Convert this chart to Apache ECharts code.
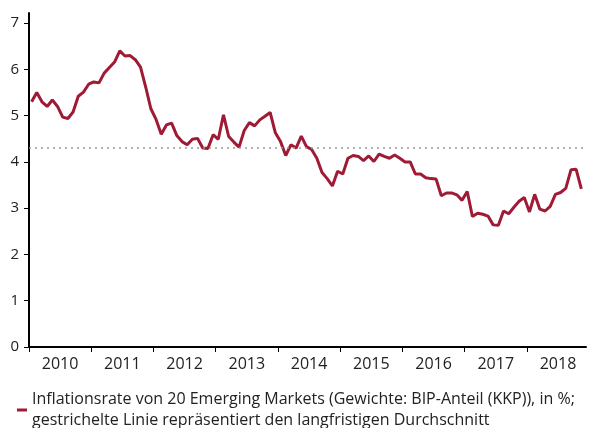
<!DOCTYPE html>
<html>
<head>
<meta charset="utf-8">
<script src="https://cdn.jsdelivr.net/npm/echarts@6/dist/echarts.min.js"></script>
<style>
html,body{margin:0;padding:0;background:#fff;}
#chart{width:595px;height:428px;}
</style>
</head>
<body>
<div id="chart"></div>
<script>
// Year labels (each year = 12 monthly observations)
const years = ['2010','2011','2012','2013','2014','2015','2016','2017','2018'];
// Monthly inflation rate, Jan 2010 - Nov 2018 (%)
const inflation = [
  5.30, 5.50, 5.30, 5.20, 5.34, 5.20, 4.97, 4.94, 5.08, 5.42, 5.51, 5.68,
  5.73, 5.71, 5.92, 6.04, 6.16, 6.40, 6.29, 6.30, 6.21, 6.05, 5.62, 5.15,
  4.92, 4.60, 4.80, 4.84, 4.57, 4.44, 4.37, 4.49, 4.51, 4.30, 4.29, 4.59,
  4.49, 5.02, 4.55, 4.43, 4.32, 4.68, 4.85, 4.78, 4.91, 4.99, 5.07, 4.63,
  4.44, 4.14, 4.37, 4.30, 4.56, 4.33, 4.27, 4.08, 3.77, 3.64, 3.48, 3.80,
  3.74, 4.08, 4.14, 4.12, 4.03, 4.13, 4.01, 4.17, 4.12, 4.08, 4.15, 4.08,
  4.00, 4.00, 3.74, 3.74, 3.66, 3.64, 3.63, 3.27, 3.33, 3.33, 3.29, 3.17,
  3.36, 2.82, 2.89, 2.87, 2.83, 2.64, 2.63, 2.94, 2.88, 3.02, 3.15, 3.23,
  2.92, 3.30, 2.98, 2.94, 3.04, 3.30, 3.34, 3.43, 3.83, 3.84, 3.42
];
// Long-term average (dotted line)
const longTermAverage = 4.3;
// Y tick labels
const yTicks = [0, 1, 2, 3, 4, 5, 6, 7];
const seriesName = 'Inflationsrate von 20 Emerging Markets (Gewichte: BIP-Anteil (KKP)), in %;\ngestrichelte Linie repräsentiert den langfristigen Durchschnitt';

const chart = echarts.init(document.getElementById('chart'), null, {renderer: 'canvas'});
const font = '"Open Sans", sans-serif';
const tickMonths = years.map((y, k) => k * 12);
const labelMonths = years.map((y, k) => k * 12 + 6);

chart.setOption({
  animation: false,
  backgroundColor: '#fff',
  grid: {left: 29, right: 9, top: 13, bottom: 81, containLabel: false},
  legend: {
    show: true,
    left: 17,
    top: 389,
    padding: 0,
    icon: 'rect',
    itemWidth: 10,
    itemHeight: 3,
    textStyle: {fontFamily: font, fontSize: 16, color: '#222', lineHeight: 21},
    data: [seriesName]
  },
  xAxis: {
    type: 'value',
    min: 0,
    max: 107.4,
    axisLine: {show: true, onZero: false, lineStyle: {color: '#000', width: 2}},
    axisTick: {show: true, customValues: tickMonths, length: 5, lineStyle: {color: '#000', width: 1}},
    axisLabel: {
      customValues: labelMonths,
      formatter: v => years[Math.round((v - 6) / 12)],
      fontFamily: font, fontSize: 16, color: '#222', margin: 9
    },
    splitLine: {show: false}
  },
  yAxis: {
    type: 'value',
    min: 0,
    max: 7.22,
    axisLine: {show: true, lineStyle: {color: '#000', width: 2}},
    axisTick: {show: true, customValues: yTicks, length: 5, lineStyle: {color: '#000', width: 1}},
    axisLabel: {customValues: yTicks, fontFamily: font, fontSize: 15, color: '#222', margin: 10},
    splitLine: {show: false}
  },
  series: [{
    name: seriesName,
    type: 'line',
    data: inflation.map((v, i) => [i + 0.5, v]),
    showSymbol: false,
    symbol: 'none',
    lineStyle: {color: '#9f1b35', width: 3},
    itemStyle: {color: '#9f1b35'},
    markLine: {
      silent: true,
      symbol: 'none',
      label: {show: false},
      lineStyle: {color: '#9a9a9a', type: [2, 4], width: 1.5},
      data: [{yAxis: longTermAverage}]
    }
  }]
});
</script>
</body>
</html>
